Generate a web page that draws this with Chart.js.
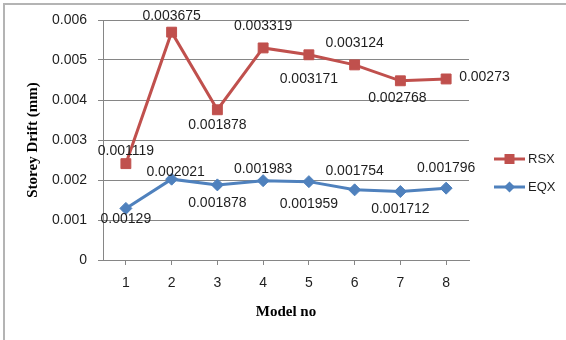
<!DOCTYPE html>
<html>
<head>
<meta charset="utf-8">
<script src="https://cdn.jsdelivr.net/npm/chart.js@4/dist/chart.umd.min.js"></script>
<style>
  html, body { margin: 0; padding: 0; background: #fff; }
  #wrap { width: 566px; height: 340px; }
</style>
</head>
<body>
<div id="wrap"><canvas id="driftChart" width="566" height="340"></canvas></div>
<script>
// model numbers on the x axis
const models = ["1", "2", "3", "4", "5", "6", "7", "8"];
// storey drift values (stacked line chart: RSX sits on top of EQX)
const eqx = [0.00129, 0.002021, 0.001878, 0.001983, 0.001959, 0.001754, 0.001712, 0.001796];
const rsx = [0.001119, 0.003675, 0.001878, 0.003319, 0.003171, 0.003124, 0.002768, 0.00273];
const yTickLabels = ["0", "0.001", "0.002", "0.003", "0.004", "0.005", "0.006"];

const RED = "#C0504D";
const BLUE = "#4F81BD";
const GRID = "#868686";
const LABEL_FONT = '14px "Liberation Sans", Arial, sans-serif';

// where each value label sits relative to its point: [dx, dy, align]
const labelPlacement = {
  RSX: [[0, -12, "center"], [0, -16, "center"], [0, 15, "center"], [0, -22, "center"],
        [0, 24, "center"], [0, -22, "center"], [-3, 17, "center"], [13, -2, "left"]],
  EQX: [[0, 11, "center"], [4, -7, "center"], [0, 18, "center"], [0, -12, "center"],
        [0, 23, "center"], [0, -19, "center"], [0, 18, "center"], [0, -20, "center"]]
};

function drawMarker(ctx, style, x, y, r, color) {
  ctx.fillStyle = color;
  ctx.beginPath();
  if (style === "rect") {
    ctx.rect(x - r, y - r, 2 * r, 2 * r);
  } else {
    ctx.moveTo(x, y - r);
    ctx.lineTo(x + r, y);
    ctx.lineTo(x, y + r);
    ctx.lineTo(x - r, y);
    ctx.closePath();
  }
  ctx.fill();
}

const frame = {
  id: "frame",
  beforeDraw(chart) {
    const ctx = chart.ctx;
    ctx.save();
    ctx.fillStyle = "#fff";
    ctx.fillRect(0, 0, chart.width, chart.height);
    ctx.strokeStyle = "#b4b4b4";
    ctx.lineWidth = 2;
    ctx.beginPath();
    ctx.moveTo(4, chart.height);
    ctx.lineTo(4, 4);
    ctx.lineTo(chart.width, 4);
    ctx.stroke();
    ctx.restore();
  }
};

const valueLabels = {
  id: "valueLabels",
  afterDatasetsDraw(chart) {
    const ctx = chart.ctx;
    ctx.save();
    ctx.font = LABEL_FONT;
    ctx.fillStyle = "#1e1e1e";
    ctx.textBaseline = "middle";
    chart.data.datasets.forEach((ds, di) => {
      const meta = chart.getDatasetMeta(di);
      const place = labelPlacement[ds.label];
      meta.data.forEach((pt, i) => {
        const [dx, dy, align] = place[i];
        ctx.textAlign = align;
        ctx.fillText(String(ds.data[i]), pt.x + dx, pt.y + dy);
      });
    });
    ctx.restore();
  }
};

const sideLegend = {
  id: "sideLegend",
  afterDraw(chart) {
    const ctx = chart.ctx;
    const x0 = chart.chartArea.right + 25;
    const items = [
      { label: "RSX", color: RED, style: "rect", y: 159, r: 5 },
      { label: "EQX", color: BLUE, style: "diamond", y: 187, r: 5.5 }
    ];
    ctx.save();
    items.forEach(it => {
      ctx.strokeStyle = it.color;
      ctx.lineWidth = 3;
      ctx.beginPath();
      ctx.moveTo(x0, it.y);
      ctx.lineTo(x0 + 31, it.y);
      ctx.stroke();
      drawMarker(ctx, it.style, x0 + 15.5, it.y, it.r, it.color);
      ctx.fillStyle = "#1e1e1e";
      ctx.font = '13px "Liberation Sans", Arial, sans-serif';
      ctx.textAlign = "left";
      ctx.textBaseline = "middle";
      ctx.fillText(it.label, x0 + 34, it.y);
    });
    ctx.restore();
  }
};

new Chart(document.getElementById("driftChart"), {
  type: "line",
  data: {
    labels: models,
    datasets: [
      {
        label: "EQX",
        data: eqx,
        borderColor: BLUE,
        backgroundColor: BLUE,
        borderWidth: 3,
        pointStyle: "rectRot",
        pointRadius: 6,
        pointBorderWidth: 1,
        fill: false,
        tension: 0
      },
      {
        label: "RSX",
        data: rsx,
        borderColor: RED,
        backgroundColor: RED,
        borderWidth: 3,
        pointStyle: "rect",
        pointRadius: 7,
        pointBorderWidth: 1,
        fill: false,
        tension: 0
      }
    ]
  },
  options: {
    responsive: false,
    animation: false,
    layout: { padding: { left: 0, right: 97, top: 20, bottom: 0 } },
    plugins: {
      legend: { display: false },
      tooltip: { enabled: false }
    },
    scales: {
      x: {
        offset: true,
        grid: { offset: false, drawOnChartArea: false, tickLength: 5, color: GRID },
        border: { color: GRID },
        ticks: {
          padding: 10,
          color: "#1e1e1e",
          font: { family: '"Liberation Sans", Arial, sans-serif', size: 14 }
        },
        title: {
          display: true,
          text: "Model no",
          color: "#000",
          padding: { top: 0, bottom: 19 },
          font: { family: '"Liberation Serif", "Times New Roman", serif', size: 15, weight: "bold" }
        },
        afterFit: scale => { scale.height = 80; }
      },
      y: {
        stacked: true,
        min: 0,
        max: 0.006,
        grid: { color: GRID, tickLength: 5 },
        border: { color: GRID },
        ticks: {
          stepSize: 0.001,
          padding: 11,
          color: "#1e1e1e",
          font: { family: '"Liberation Sans", Arial, sans-serif', size: 14 },
          callback: (value, index) => yTickLabels[index]
        },
        title: {
          display: true,
          text: "Storey Drift (mm)",
          color: "#000",
          padding: { top: 24, bottom: 0 },
          font: { family: '"Liberation Serif", "Times New Roman", serif', size: 15, weight: "bold" }
        },
        afterFit: scale => { scale.width = 103; }
      }
    }
  },
  plugins: [frame, valueLabels, sideLegend]
});
</script>
</body>
</html>
